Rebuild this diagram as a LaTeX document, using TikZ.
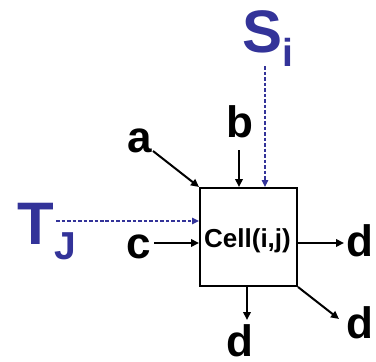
\documentclass[tikz,border=0pt]{standalone}
\usepackage{fontspec}
\setmainfont{Liberation Sans}
\usetikzlibrary{arrows.meta}
\definecolor{myblue}{RGB}{51,51,153}
\begin{document}
\begin{tikzpicture}[x=1pt,y=-1pt,
  lbl/.style={font=\fontsize{44}{44}\selectfont\bfseries, inner sep=0pt, anchor=base},
  big/.style={font=\fontsize{60}{60}\selectfont\bfseries, inner sep=0pt, anchor=base, text=myblue},
  conn/.style={line width=2pt, -{Triangle[length=8pt,width=7.5pt]}},
  dconn/.style={myblue, line width=1.4pt, dash pattern=on 3.5pt off 2pt, -{Triangle[length=7pt,width=6.5pt]}}]
\useasboundingbox (0,0) rectangle (376,362);
\node[draw, line width=2pt, minimum width=97pt, minimum height=98pt, inner sep=0pt] (cell) at (248.5,237) {};
\node[font=\fontsize{26}{26}\selectfont\bfseries, inner sep=0pt, anchor=base] (celltext) at (247.5,247) {Cell(i,j)};
\node[lbl] (a) at (140,152) {a};
\node[lbl] (b) at (240,137) {b};
\node[lbl] (c) at (139,258) {c};
\node[lbl] (d1) at (360,256) {d};
\node[lbl] (d2) at (240,356) {d};
\node[lbl] (d3) at (360,338) {d};
\node[big] (S) at (268,52) {S\raisebox{-14pt}{\fontsize{39}{39}\selectfont i}};
\node[big] (T) at (47,244) {T\raisebox{-15pt}{\fontsize{39}{39}\selectfont J}};
\coordinate (a0) at (153,151);
\coordinate (b0) at (239,150);
\coordinate (s0) at (265,66);
\coordinate (t0) at (56,221);
\coordinate (c0) at (154,243);
\coordinate (d1e) at (344,243);
\coordinate (d2e) at (247,320);
\coordinate (d3e) at (339,319);
\draw[conn] (a0) -- (cell.north west);
\draw[conn] (b0) -- ([xshift=-9.5pt]cell.north);
\draw[dconn] (s0) -- ([xshift=16.5pt]cell.north);
\draw[dconn] (t0) -- ([yshift=16pt]cell.west);
\draw[conn] (c0) -- ([yshift=-6pt]cell.west);
\draw[conn] ([yshift=-6pt]cell.east) -- (d1e);
\draw[conn] ([xshift=-1.5pt]cell.south) -- (d2e);
\draw[conn] (cell.south east) -- (d3e);
\end{tikzpicture}
\end{document}
